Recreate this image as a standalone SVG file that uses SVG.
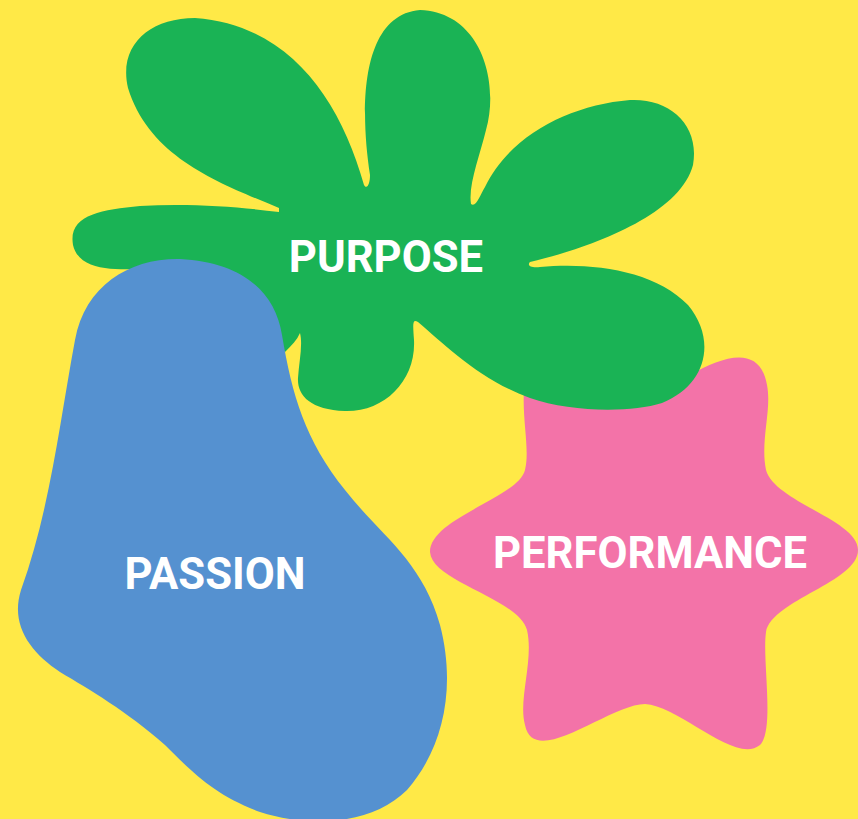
<svg xmlns="http://www.w3.org/2000/svg" width="858" height="819" viewBox="0 0 858 819">
<style>.t{font-family:Roboto,"Liberation Sans",sans-serif;font-weight:700;font-size:43.6px;fill:#fff;text-anchor:middle}</style>
<rect width="858" height="819" fill="#FFE947"/>
<g id="performance">
<path fill="#F373A8" d="M524 390C522 420 530 450 525 470C518 498 430 518 430 552C432 582 518 598 527 630C534 660 518 700 525 725C534 770 610 704 645 704C680 706 735 765 760 745C775 730 762 660 766 632C772 600 858 582 858 550C858 520 775 502 766 470C760 440 772 410 767 385C760 345 725 355 690 375Z"/>
<text class="t" x="650" y="568">PERFORMANCE</text>
</g>
<g id="purpose">
<path fill="#1AB355" d="M279 208C225 185 150 160 128 88C118 45 150 18 195 18C290 25 340 100 364 185C367 190 370 184 370 175C360 110 360 15 420 10C480 12 500 80 486 130C480 155 468 185 471 204C476 208 480 195 485 187C510 135 570 105 630 100C670 98 700 125 693 165C680 215 590 248 530 262C527 265 530 268 540 267C590 262 655 270 688 305C717 340 707 385 662 403C630 413 570 412 530 398C480 380 445 345 418 322C412 318 413 325 414 340C416 380 385 412 345 411C310 410 297 395 298 378C299 362 303 345 300 333C297 340 292 345 285 352L150 270C125 268 80 275 73 245C68 215 100 210 140 206C190 203 240 207 279 212Z"/>
<text class="t" x="386" y="272">PURPOSE</text>
</g>
<g id="passion">
<path fill="#5591D0" d="M75 340C85 285 130 258 180 259C240 262 275 290 282 335C292 395 305 440 345 490C380 535 422 560 440 625C457 690 442 750 407 790C372 825 310 828 260 812C215 795 195 775 165 745C125 710 90 690 60 672C30 652 10 625 21 590C50 510 60 420 75 340Z"/>
<text class="t" x="215" y="589">PASSION</text>
</g>
<g id="connectors"/>
</svg>
